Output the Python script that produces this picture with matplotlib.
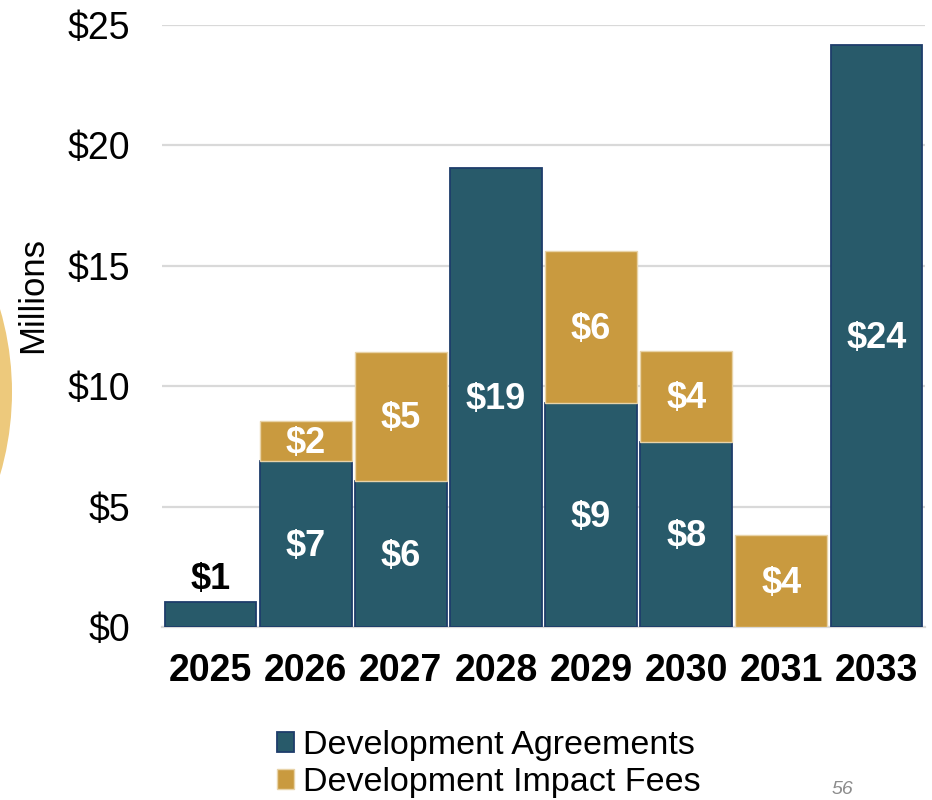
import matplotlib
matplotlib.use("Agg")
import matplotlib.pyplot as plt
from matplotlib.patches import Circle
import numpy as np

years = ["2025", "2026", "2027", "2028", "2029", "2030", "2031", "2033"]
dev_agreements = [1.04, 6.9, 6.06, 19.06, 9.3, 7.68, 0.0, 24.17]
impact_fees = [0.0, 1.65, 5.36, 0.0, 6.31, 3.78, 3.82, 0.0]
da_labels = ["$1", "$7", "$6", "$19", "$9", "$8", "", "$24"]
dif_labels = ["", "$2", "$5", "", "$6", "$4", "$4", ""]
yticks = [0, 5, 10, 15, 20, 25]
ytick_labels = ["$0", "$5", "$10", "$15", "$20", "$25"]

DA_COLOR = "#285A6A"
DIF_COLOR = "#C99A3F"

plt.rcParams["font.family"] = ["Liberation Sans", "DejaVu Sans"]

W, H = 932, 800
fig = plt.figure(figsize=(W / 100, H / 100), dpi=100)

# decorative circle at the left edge
circ = Circle((-386 / W, 1 - 392 / H), 398 / W, transform=fig.transFigure,
              facecolor="#EDC97C", edgecolor="none", zorder=0)
fig.patches.append(circ)

ax = fig.add_axes([162 / W, 1 - 627 / H, (925 - 162) / W, (627 - 25) / H])
x = np.arange(len(years))
bw = 0.965

da = np.array(dev_agreements)
dif = np.array(impact_fees)

m_da = da > 0
m_dif = dif > 0
ax.bar(x[m_da], da[m_da], bw, color=DA_COLOR, edgecolor="#1E3D6B", linewidth=1.3,
       zorder=3, label="Development Agreements")
ax.bar(x[m_dif], dif[m_dif], bw, bottom=da[m_dif], color=DIF_COLOR,
       edgecolor="#E8D3A8", linewidth=1.0, zorder=3, label="Development Impact Fees")

LBL = 26
for i in range(len(years)):
    if da_labels[i]:
        if da[i] < 2:
            ax.text(x[i], da[i] + 0.2, da_labels[i], ha="center", va="bottom",
                    fontsize=LBL, fontweight="bold", color="black", zorder=4)
        else:
            ax.text(x[i], da[i] / 2 - 0.1, da_labels[i], ha="center", va="center",
                    fontsize=LBL, fontweight="bold", color="white", zorder=4)
    if dif_labels[i]:
        ax.text(x[i], da[i] + dif[i] / 2 - 0.1, dif_labels[i], ha="center", va="center",
                fontsize=LBL, fontweight="bold", color="white", zorder=4)

ax.set_xlim(-0.5 - 0.01, len(years) - 0.5 + 0.01)
ax.set_ylim(0, 25)
ax.set_yticks(yticks)
ax.set_yticklabels(ytick_labels, fontsize=27)
ax.set_xticks(x)
ax.set_xticklabels(years, fontsize=27, fontweight="bold")
ax.tick_params(axis="both", length=0)
ax.tick_params(axis="y", pad=23)
ax.tick_params(axis="x", pad=19)
ax.yaxis.grid(True, color="#D9D9D9", linewidth=1.6, zorder=0)
ax.set_axisbelow(True)
for s in ["top", "right", "left"]:
    ax.spines[s].set_visible(False)
ax.spines["bottom"].set_color("#D9D9D9")
ax.spines["bottom"].set_linewidth(1.6)
ax.spines["bottom"].set_zorder(1)
ax.patch.set_alpha(0)

fig.text(33 / W, 1 - 295 / H, "Millions", fontsize=25, rotation=90,
         ha="center", va="center")

leg = fig.legend(loc="upper left", bbox_to_anchor=(260 / W, 1 - 713 / H),
                 frameon=False, fontsize=24.5, handlelength=0.5, handleheight=0.5,
                 handletextpad=0.25, labelspacing=0.18, borderpad=0)

fig.text(842 / W, 1 - 798 / H, "56", fontsize=14, color="#8C8C8C",
         style="italic", ha="center", va="bottom")

fig.savefig("out.png", dpi=100)
